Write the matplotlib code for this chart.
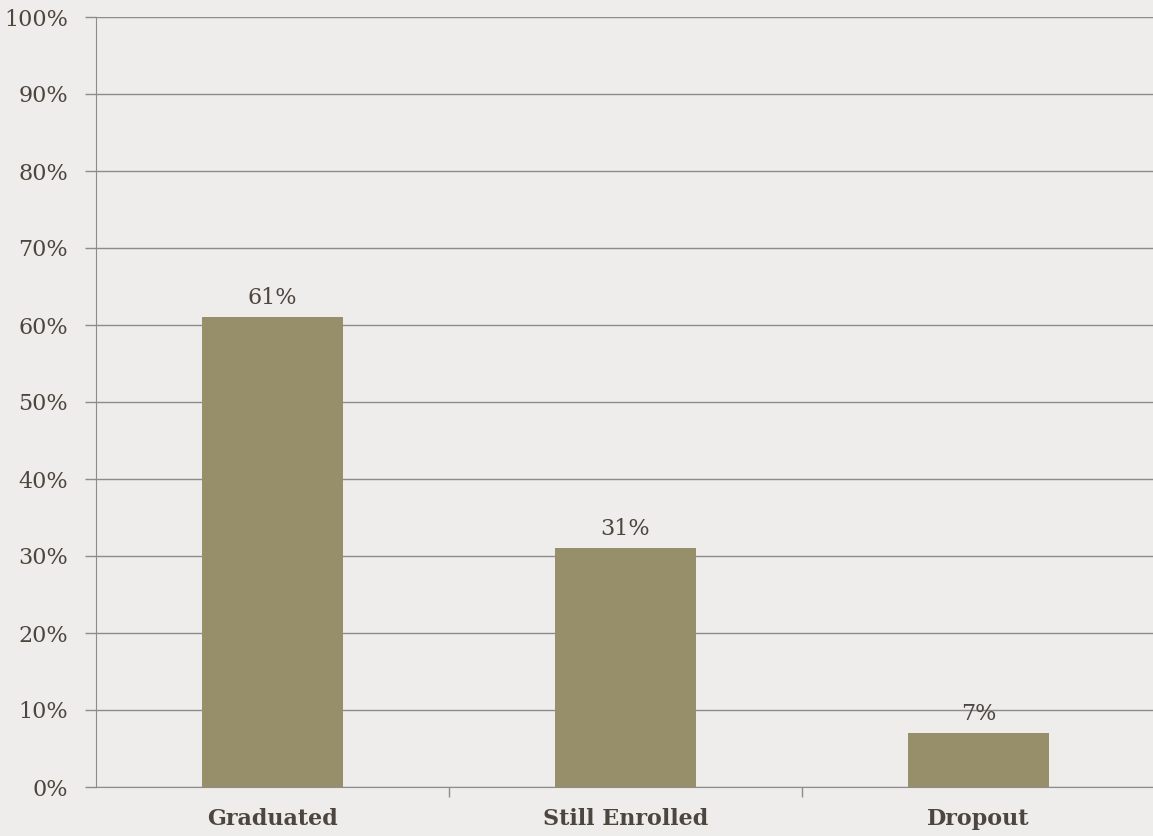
import matplotlib.pyplot as plt
import numpy as np

categories = ["Graduated", "Still Enrolled", "Dropout"]
values = [61, 31, 7]
yticks = [0, 10, 20, 30, 40, 50, 60, 70, 80, 90, 100]

bg = "#eeedeb"
bar_color = "#978f6a"
text_color = "#4d463e"
line_color = "#8c8c8c"

plt.rcParams['font.family'] = ['DejaVu Serif']

fig = plt.figure(figsize=(11.53, 8.36), dpi=100, facecolor=bg)
ax = fig.add_axes([96/1153, 49/836, 1059/1153, 770/836], facecolor=bg)

x = np.arange(len(categories))
ax.bar(x, values, width=0.4, color=bar_color, zorder=3)

for xi, v in zip(x, values):
    ax.text(xi, v + 1.1, f"{v}%", ha="center", va="bottom",
            fontsize=16, color=text_color, zorder=4)

ax.set_xlim(-0.5, 2.5)
ax.set_ylim(0, 100)
ax.set_yticks(yticks)
ax.set_yticklabels([f"{t}%" for t in yticks], fontsize=16, color=text_color)
ax.yaxis.grid(True, color=line_color, linewidth=1, zorder=0)

ax.set_xticks(x)
ax.set_xticklabels(categories, fontsize=16, fontweight="bold", color=text_color)
ax.tick_params(axis="x", length=0, pad=15)
ax.set_xticks([0.5, 1.5], minor=True)
ax.tick_params(axis="x", which="minor", length=7, color=line_color, width=1)
ax.tick_params(axis="y", length=8, color=line_color, width=1, pad=12)

for s in ["top", "right"]:
    ax.spines[s].set_visible(False)
ax.spines["left"].set_color(line_color)
ax.spines["bottom"].set_color(line_color)

fig.savefig("out.png", dpi=100, facecolor=bg)
